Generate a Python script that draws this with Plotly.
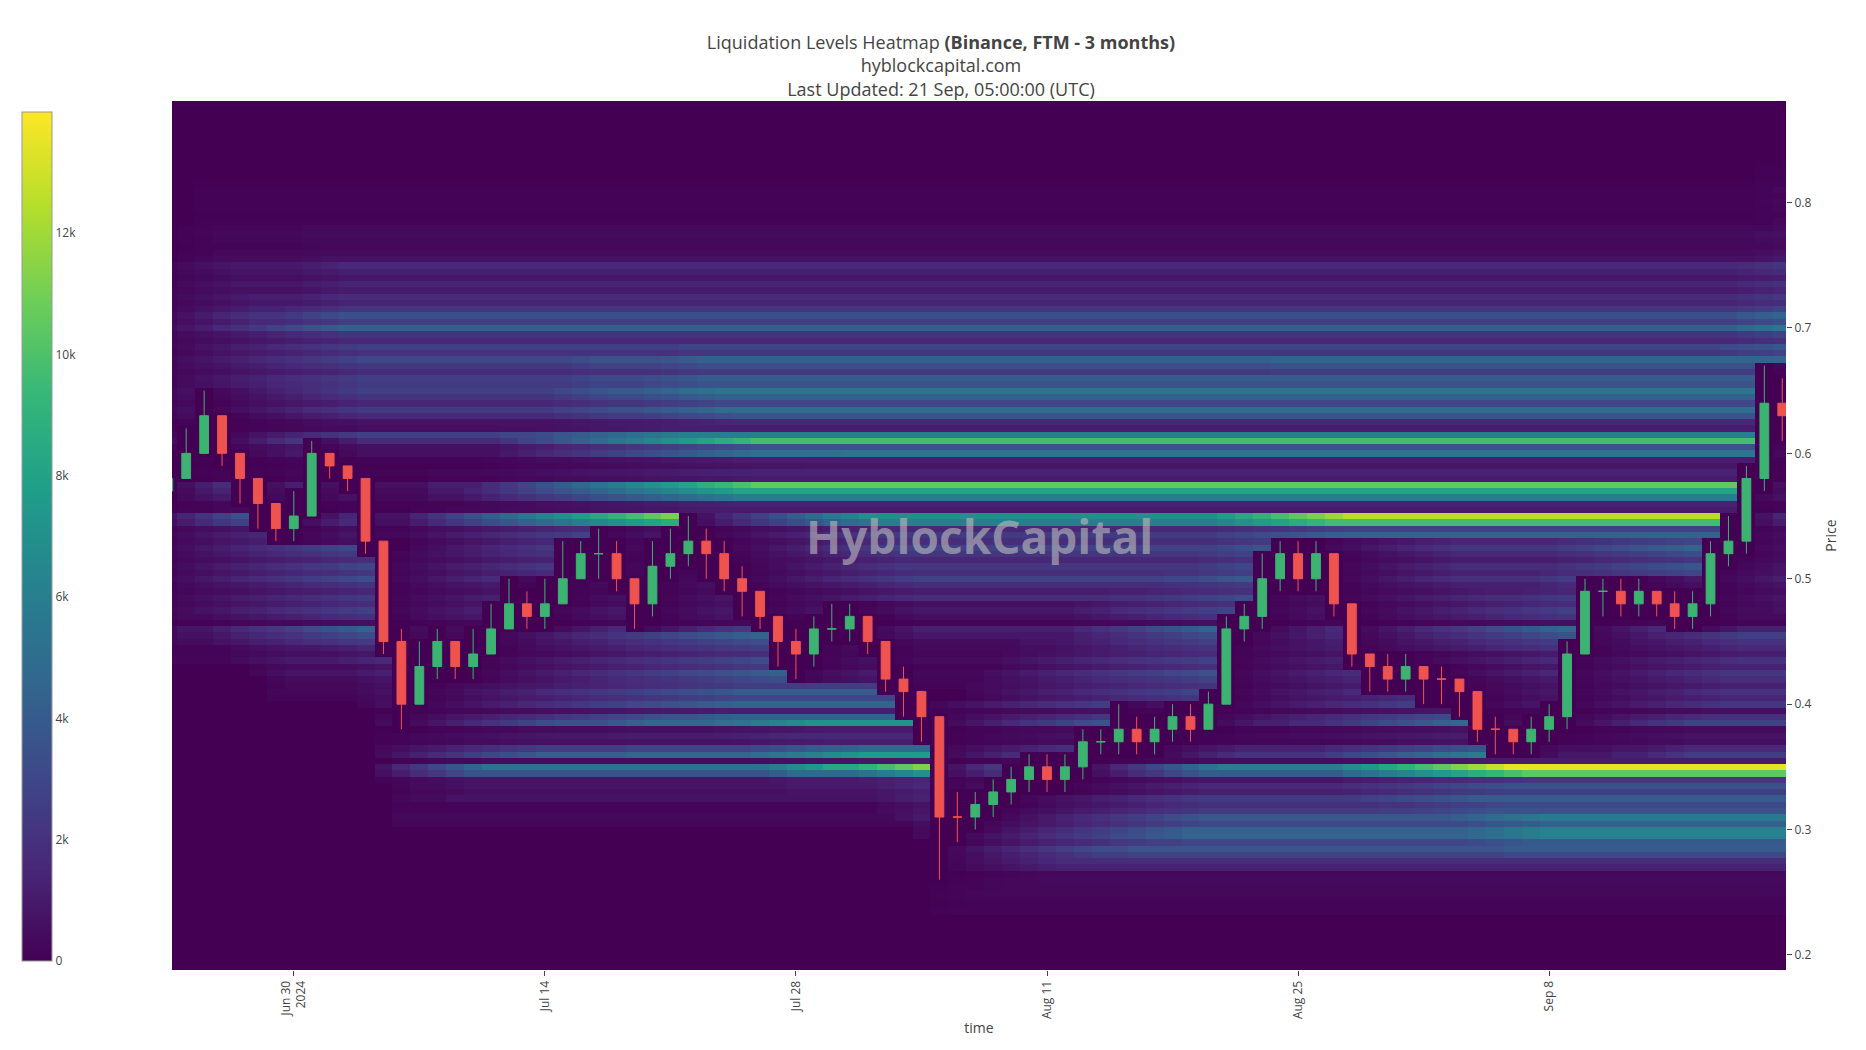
import numpy as np
import pandas as pd
import plotly.graph_objects as go

dates = pd.date_range("2024-06-23", "2024-09-21", freq="D")
close = [0.58,0.60,0.63,0.60,0.58,0.56,0.54,0.55,0.60,0.59,0.58,0.53,0.45,0.40,0.43,0.45,0.43,0.44,0.46,0.48,0.47,0.48,0.50,0.52,0.52,0.50,0.48,0.51,0.52,0.53,0.52,0.50,0.49,0.47,0.45,0.44,0.46,0.46,0.47,0.45,0.42,0.41,0.39,0.31,0.31,0.32,0.33,0.34,0.35,0.34,0.35,0.37,0.37,0.38,0.37,0.38,0.39,0.38,0.40,0.46,0.47,0.50,0.52,0.50,0.52,0.48,0.44,0.43,0.42,0.43,0.42,0.42,0.41,0.38,0.38,0.37,0.38,0.39,0.44,0.49,0.49,0.48,0.49,0.48,0.47,0.48,0.52,0.53,0.58,0.64,0.63]
high = [0.60,0.62,0.65,0.63,0.60,0.58,0.56,0.57,0.61,0.60,0.59,0.58,0.53,0.46,0.45,0.46,0.45,0.46,0.48,0.50,0.49,0.50,0.53,0.53,0.54,0.53,0.50,0.53,0.54,0.55,0.54,0.53,0.51,0.49,0.47,0.46,0.47,0.48,0.48,0.47,0.45,0.43,0.41,0.39,0.33,0.33,0.34,0.35,0.36,0.36,0.36,0.38,0.38,0.40,0.39,0.39,0.40,0.40,0.41,0.47,0.48,0.52,0.53,0.53,0.53,0.52,0.48,0.44,0.44,0.44,0.43,0.43,0.42,0.41,0.39,0.38,0.39,0.40,0.45,0.50,0.50,0.50,0.50,0.49,0.49,0.49,0.53,0.55,0.59,0.67,0.66]
low = [0.56,0.58,0.60,0.59,0.56,0.54,0.53,0.53,0.55,0.58,0.57,0.52,0.44,0.38,0.40,0.42,0.42,0.42,0.44,0.46,0.46,0.46,0.48,0.50,0.50,0.49,0.46,0.47,0.50,0.51,0.50,0.49,0.47,0.46,0.43,0.42,0.43,0.45,0.45,0.44,0.41,0.39,0.37,0.26,0.29,0.30,0.31,0.32,0.33,0.33,0.33,0.34,0.36,0.36,0.36,0.36,0.37,0.37,0.38,0.40,0.45,0.46,0.49,0.49,0.49,0.47,0.43,0.41,0.41,0.41,0.40,0.40,0.39,0.37,0.36,0.36,0.36,0.37,0.38,0.44,0.47,0.47,0.47,0.47,0.46,0.46,0.47,0.51,0.52,0.57,0.61]
openp = [close[0] - 0.01] + close[:-1]

# liquidation level bands: (low price, high price, weight)
band_lo = [0.27,0.28,0.29,0.30,0.32,0.345,0.36,0.385,0.40,0.43,0.455,0.47,0.50,0.545,0.565,0.60,0.61,0.63,0.66,0.70,0.72,0.76]
band_hi = [0.28,0.29,0.30,0.32,0.345,0.355,0.37,0.395,0.43,0.455,0.465,0.50,0.545,0.555,0.58,0.61,0.62,0.66,0.70,0.72,0.76,0.82]
band_w  = [4500,7500,8000,6500,4000,13500,8500,8000,4500,4000,8000,4000,5000,12500,10500,5500,11000,5500,4500,7000,3500,1800]

levels = np.round(np.arange(0.19, 0.885, 0.005), 3)
z = np.zeros((len(levels), len(dates)))
age = np.zeros(len(levels))
for j in range(len(dates)):
    for i, p in enumerate(levels):
        w = 1500.0
        for lo, hi, bw in zip(band_lo, band_hi, band_w):
            if lo <= p < hi:
                w = bw
        if low[j] <= p <= high[j]:
            age[i] = 0
        elif 0.75 * close[j] <= p <= 1.3 * close[j]:
            age[i] += 1
        z[i, j] = w * min(1.0, age[i] / 18.0) * (0.55 + 0.45 * ((i * 7) % 5) / 4) if age[i] > 0 else 0

fig = go.Figure()
fig.add_trace(go.Heatmap(x=dates, y=levels, z=z, colorscale="Viridis", zmin=0, zmax=14000,
    colorbar=dict(x=-0.099, xanchor="left", y=0.499, len=1.0,
                  thickness=30, outlinewidth=1,
                  outlinecolor="#999", tickvals=[0,2000,4000,6000,8000,10000,12000],
                  ticktext=["0","2k","4k","6k","8k","10k","12k"], tickfont=dict(size=12, color="#444"))))
fig.add_trace(go.Candlestick(x=dates, open=openp, high=high, low=low, close=close, whiskerwidth=0,
    increasing=dict(line=dict(color="#3cb371", width=1), fillcolor="#3cb371"),
    decreasing=dict(line=dict(color="#ef5350", width=1), fillcolor="#ef5350"), showlegend=False))
fig.update_layout(
    width=1866, height=1050, paper_bgcolor="white", plot_bgcolor="#440154",
    margin=dict(l=164, r=88, t=93, b=88, autoexpand=False),
    title=dict(text="Liquidation Levels Heatmap <b>(Binance, FTM - 3 months)</b><br>hyblockcapital.com<br>Last Updated: 21 Sep, 05:00:00 (UTC)",
               x=0.5, y=0.961, yanchor="top", font=dict(size=18, color="#444", family="Open Sans")),
    xaxis=dict(range=["2024-06-23 05:00", "2024-09-21 05:00"], rangeslider=dict(visible=False),
               title=dict(text="time", font=dict(size=14, color="#444"), standoff=5), tickangle=-90,
               tickvals=["2024-06-30","2024-07-14","2024-07-28","2024-08-11","2024-08-25","2024-09-08"],
               ticktext=["Jun 30<br>2024","Jul 14","Jul 28","Aug 11","Aug 25","Sep 8"],
               tickfont=dict(size=12, color="#444"), showgrid=False, ticks="outside", ticklen=5, tickcolor="#444"),
    yaxis=dict(side="right", range=[0.188, 0.881], title=dict(text="Price", font=dict(size=14, color="#444")),
               tickvals=[0.2,0.3,0.4,0.5,0.6,0.7,0.8], tickfont=dict(size=12, color="#444"),
               showgrid=False, ticks="outside", ticklen=5, tickcolor="#444"),
    font=dict(family="Open Sans"),
    annotations=[dict(text="<b>HyblockCapital</b>", x=0.5, y=0.5, xref="paper", yref="paper",
                      showarrow=False, font=dict(size=46, color="rgba(190,190,190,0.6)"))],
)
fig.write_html("out.html")
